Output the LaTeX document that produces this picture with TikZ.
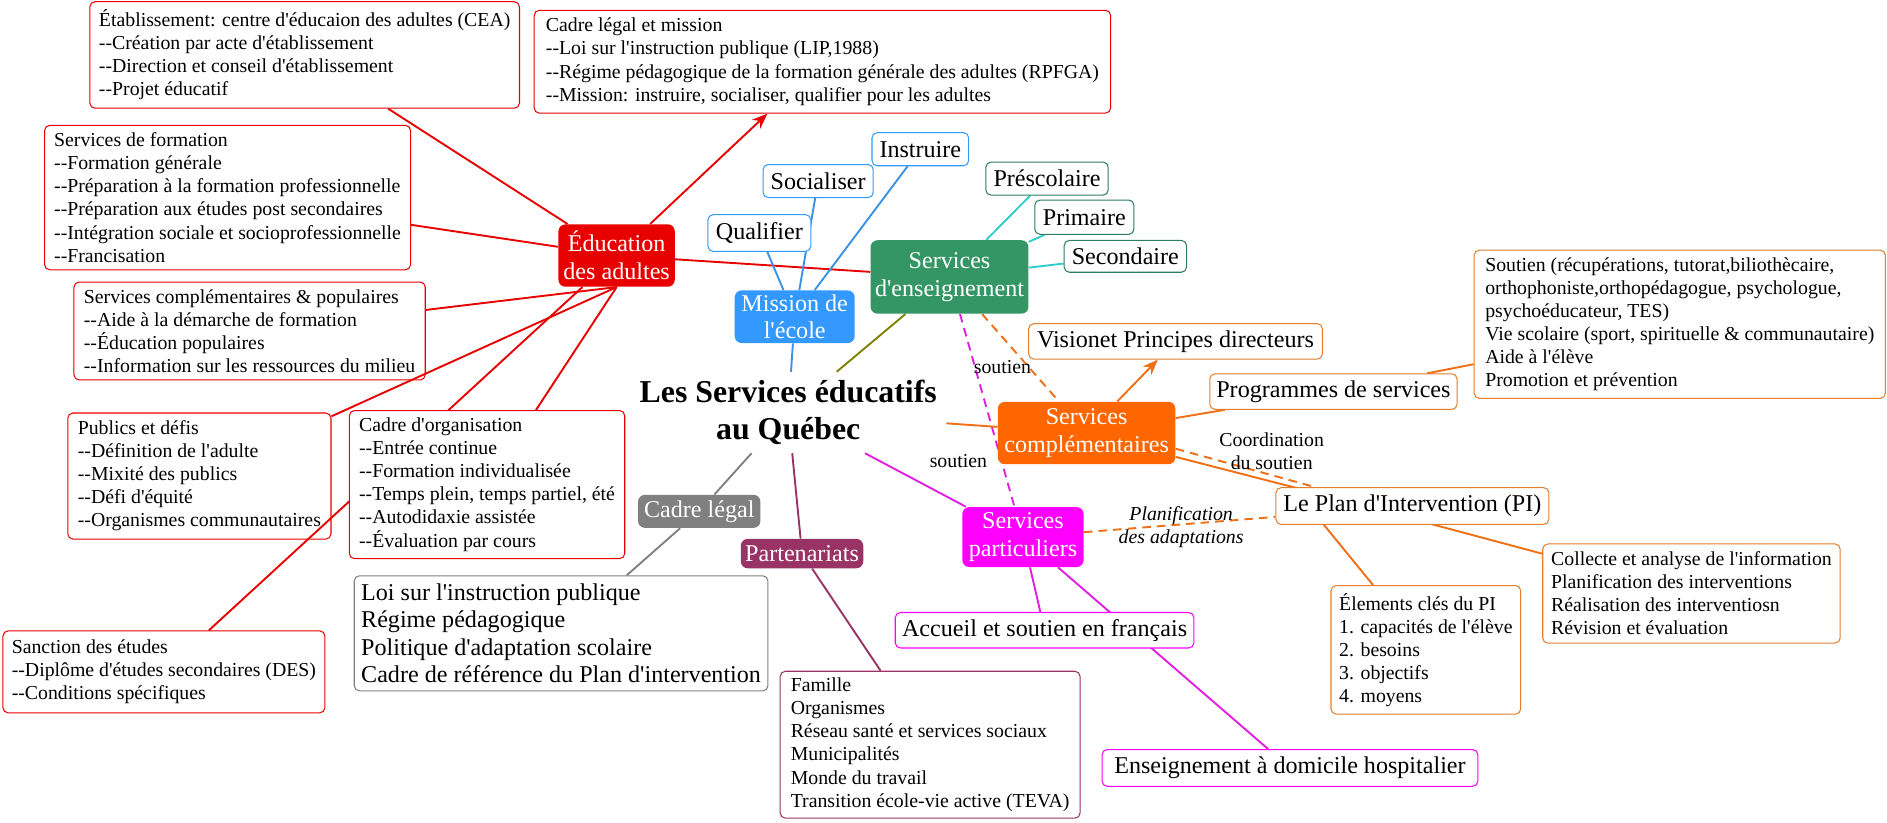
\documentclass[tikz,border=0pt]{standalone}
\usepackage{fontspec}
\setmainfont{Liberation Serif}[Ligatures=TeXOff]
\usetikzlibrary{arrows.meta,calc}
\pgfdeclarelayer{bg}
\pgfsetlayers{bg,main}
\definecolor{cred}{RGB}{232,0,0}
\definecolor{cblue}{RGB}{51,153,255}
\definecolor{cbluel}{RGB}{60,145,230}
\definecolor{cgreen}{RGB}{51,150,100}
\definecolor{cgreendk}{RGB}{45,125,95}
\definecolor{ccyan}{RGB}{51,204,204}
\definecolor{colive}{RGB}{128,128,0}
\definecolor{corange}{RGB}{255,102,0}
\definecolor{cornl}{RGB}{240,110,20}
\definecolor{cornb}{RGB}{230,125,45}
\definecolor{cgray}{RGB}{128,128,128}
\definecolor{cmaroon}{RGB}{153,51,102}
\definecolor{cmag}{RGB}{255,0,255}
\definecolor{cmagl}{RGB}{225,30,225}
\newcommand\fsm{\fontsize{11.5}{13.4}\selectfont}
\newcommand\fbg{\fontsize{14}{16}\selectfont}
\newcommand\fti{\fontsize{18.5}{21.5}\selectfont\bfseries}
\tikzset{
  WH/.style 2 args={minimum width=#1*0.025cm, minimum height=#2*0.025cm},
  lbox/.style={draw=#1, fill=white, rounded corners=3pt, line width=0.6pt, anchor=north west, inner sep=0pt, align=left, font=\fsm},
  bbox/.style={draw=#1, fill=white, rounded corners=3pt, line width=0.6pt, anchor=north west, inner sep=0pt, align=center, font=\fbg},
  fbox/.style={fill=#1, text=white, rounded corners=4pt, anchor=north west, inner sep=0pt, align=center, font=\fbg},
  link/.style={draw=#1, line width=1.1pt},
  dlink/.style={draw=#1, line width=1.1pt, dash pattern=on 5pt off 3.5pt},
  lbl/.style={font=\fsm, inner sep=1pt, align=center},
  tip/.style={-{Stealth[length=9pt,width=7pt]}},
}
\begin{document}
\begin{tikzpicture}[x=0.025cm, y=-0.025cm]
\path[use as bounding box] (0,0) rectangle (1541.7,671.6);

% ---------------- Education des adultes ----------------
\node[lbox=cred, WH={351}{87}] (etab) at (73,1) {Établissement: centre d'éducaion des adultes (CEA)\\--Création par acte d'établissement\\--Direction et conseil d'établissement\\--Projet éducatif};
\node[lbox=cred, WH={471}{84}] (cadrelm) at (436,8) {Cadre légal et mission\\--Loi sur l'instruction publique (LIP,1988)\\--Régime pédagogique de la formation générale des adultes (RPFGA)\\--Mission: instruire, socialiser, qualifier pour les adultes};
\node[lbox=cred, WH={299}{118}] (servform) at (36,102) {Services de formation\\--Formation générale\\--Préparation à la formation professionnelle\\--Préparation aux études post secondaires\\--Intégration sociale et socioprofessionnelle\\--Francisation};
\node[lbox=cred, WH={287}{80}] (servcomp) at (60,230) {Services complémentaires \& populaires\\--Aide à la démarche de formation\\--Éducation populaires\\--Information sur les ressources du milieu};
\node[lbox=cred, WH={215}{103}] (publics) at (55,337) {Publics et défis\\--Définition de l'adulte\\--Mixité des publics\\--Défi d'équité\\--Organismes communautaires};
\node[lbox=cred, WH={263}{67}] (sanction) at (2,515) {Sanction des études\\--Diplôme d'études secondaires (DES)\\--Conditions spécifiques};
\node[fbox=cred, WH={95}{51}] (edu) at (456,183) {Éducation\\des adultes};
\draw[link=cred] (edu.south) -- (publics);
\draw[link=cred] (edu) -- (sanction);
\node[lbox=cred, WH={225}{121}] (cadreorg) at (285,335) {Cadre d'organisation\\--Entrée continue\\--Formation individualisée\\--Temps plein, temps partiel, été\\--Autodidaxie assistée\\--Évaluation par cours};
\draw[link=cred, tip] (edu) -- (cadrelm);

% ---------------- Mission ----------------
\node[fbox=cblue, WH={98}{43}] (mission) at (600,237) {Mission de\\l'école};
\node[bbox=cblue, WH={84}{30}] (qualifier) at (578,175) {Qualifier};
\node[bbox=cblue, WH={90}{27}] (socialiser) at (623,134) {Socialiser};
\node[bbox=cblue, WH={79}{27}] (instruire) at (712,108) {Instruire};

% ---------------- Enseignement ----------------
\node[fbox=cgreen, WH={129}{60}] (enseign) at (711,196) {Services\\d'enseignement};
\node[bbox=cgreendk, WH={100}{27}] (presco) at (805,132) {Préscolaire};
\node[bbox=cgreendk, WH={81}{28}] (primaire) at (845,163) {Primaire};
\node[bbox=cgreendk, WH={100}{26}] (second) at (869,196) {Secondaire};

% ---------------- Title ----------------
\node[font=\fti, align=center, inner sep=0pt, WH={258}{66}] (titre) at (644,337) {Les Services éducatifs\\au Québec};

% ---------------- Cadre legal / Partenariats ----------------
\node[fbox=cgray, WH={100}{27}] (cadrel) at (521,404) {Cadre légal};
\node[lbox=cgray, font=\fbg, WH={338}{94}] (loi) at (289,470) {Loi sur l'instruction publique\\Régime pédagogique\\Politique d'adaptation scolaire\\Cadre de référence du Plan d'intervention};
\node[fbox=cmaroon, WH={100}{24}] (parten) at (605,440) {Partenariats};
\node[lbox=cmaroon, WH={245}{120}] (partlist) at (637,548) {Famille\\Organismes\\Réseau santé et services sociaux\\Municipalités\\Monde du travail\\Transition école-vie active (TEVA)};

% ---------------- Services particuliers ----------------
\node[fbox=cmag, WH={99}{49}] (spart) at (786,414) {Services\\particuliers};
\node[bbox=cmag, WH={244}{29}] (accueil) at (731,500) {Accueil et soutien en français};
\node[bbox=cmag, WH={307}{30}] (domicile) at (900,612) {Enseignement à domicile hospitalier};

% ---------------- Services complementaires ----------------
\node[fbox=corange, WH={145}{51}] (compl) at (815,328) {Services\\complémentaires};
\node[bbox=cornb, WH={240}{29}] (vision) at (840,264) {Visionet Principes directeurs};
\node[bbox=cornb, WH={202}{29}] (prog) at (988,305) {Programmes de services};
\node[lbox=cornb, WH={336}{121}] (soutien) at (1204,204) {Soutien (récupérations, tutorat,biliothècaire,\\orthophoniste,orthopédagogue, psychologue,\\psychoéducateur, TES)\\Vie scolaire (sport, spirituelle \& communautaire)\\Aide à l'élève\\Promotion et prévention};
\node[bbox=cornb, WH={223}{30}] (pi) at (1042,398) {Le Plan d'Intervention (PI)};
\node[lbox=cornb, WH={155}{105}] (elem) at (1087,478) {Élements clés du PI\\1. capacités de l'élève\\2. besoins\\3. objectifs\\4. moyens};
\node[lbox=cornb, WH={243}{81}] (collecte) at (1260,444) {Collecte et analyse de l'information\\Planification des interventions\\Réalisation des interventiosn\\Révision et évaluation};
\coordinate (pj) at (pi.171);
\draw[link=cornl, tip] (compl) -- (vision);

% ---------------- Labels ----------------
\node[lbl] (lsout1) at (819,300) {soutien};
\node[lbl] (lsout2) at (783,377) {soutien};
\node[lbl] (lcoord) at (1039,368.5) {Coordination\\du soutien};
\node[lbl, font=\fsm\itshape] (lplan) at (965,431) {Planification\\des adaptations};

% ---------------- Connectors (behind) ----------------
\begin{pgfonlayer}{bg}
\draw[link=cred] (edu) -- (etab);
\draw[link=cred] (edu) -- (servform);
\draw[link=cred] (edu.south) -- (servcomp);
\draw[link=cred] (edu.south) -- (cadreorg);
\draw[link=cred] (edu) -- (enseign);
\draw[link=cbluel] (mission) -- (qualifier);
\draw[link=cbluel] (mission) -- (socialiser);
\draw[link=cbluel] (mission) -- (instruire);
\draw[link=cbluel] (titre) -- (mission);
\draw[link=ccyan] (enseign) -- (presco);
\draw[link=ccyan] (enseign) -- (primaire);
\draw[link=ccyan] (enseign) -- (second);
\draw[link=colive] (titre) -- (enseign);
\draw[link=cgray] (titre) -- (cadrel);
\draw[link=cgray] (cadrel) -- (loi);
\draw[link=cmaroon] (titre) -- (parten);
\draw[link=cmaroon] (parten) -- (partlist);
\draw[link=cmagl] (titre) -- (spart);
\draw[link=cmagl] (spart) -- (accueil);
\draw[link=cmagl] (spart) -- (domicile);
\draw[dlink=cmagl] (enseign) -- (spart);
\draw[dlink=cornl] (enseign) -- (compl);
\draw[link=cornl] (titre) -- (compl);
\draw[link=cornl] (compl) -- (prog);
\draw[link=cornl] (prog) -- (soutien);
\draw[link=cornl] (compl.-15) -- (pj);
\draw[dlink=cornl] (compl.-10) -- (pi.169);
\draw[link=cornl] (pj) -- (elem);
\draw[link=cornl] (pj) -- (collecte);
\draw[dlink=cornl] (spart) -- (pi);
\end{pgfonlayer}
\end{tikzpicture}
\end{document}
